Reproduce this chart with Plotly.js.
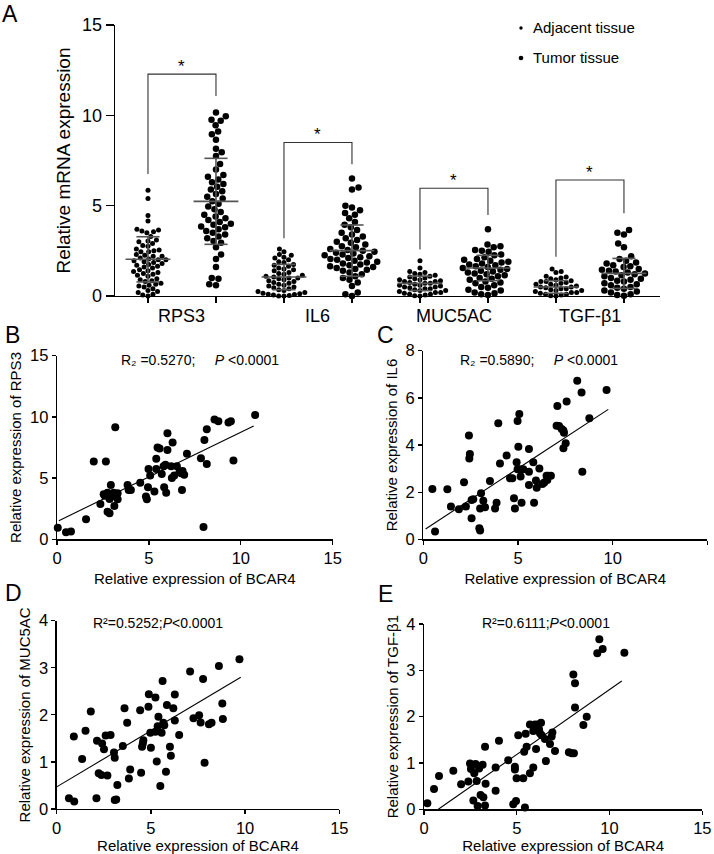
<!DOCTYPE html>
<html><head><meta charset="utf-8">
<script src="https://cdn.plot.ly/plotly-3.0.1.min.js"></script>
<style>html,body{margin:0;padding:0;background:#fff}</style>
</head><body><div id="chart" style="width:714px;height:854px"></div>
<script>
// ---------- Panel A data ----------
const categories = ['RPS3', 'IL6', 'MUC5AC', 'TGF-β1'];
const groupNames = ['Adjacent tissue', 'Tumor tissue'];
const rps3Adjacent = [5.85,5.4,4.45,4.15,3.7,3.65,3.6,3.55,3.5,3.3,3.1,3.05,3.0,2.9,2.8,2.75,2.6,2.55,2.5,2.45,2.45,2.3,2.25,2.2,2.2,2.1,2.05,2.0,2.0,1.95,1.9,1.85,1.8,1.75,1.7,1.65,1.6,1.55,1.45,1.4,1.35,1.3,1.25,1.2,1.15,1.1,0.95,0.9,0.85,0.8,0.7,0.65,0.6,0.55,0.5,0.4,0.3,0.25,0.2,0.1,0.05,0.0];
const rps3Tumor = [10.15,9.95,9.75,9.7,9.45,9.1,8.95,8.65,8.15,7.95,7.75,7.3,7.0,6.7,6.6,6.45,6.3,6.2,6.05,5.9,5.8,5.65,5.5,5.4,5.25,5.1,4.95,4.8,4.65,4.5,4.4,4.3,4.2,4.1,4.0,3.95,3.85,3.8,3.7,3.6,3.5,3.4,3.3,3.2,3.05,2.95,2.7,2.3,2.05,1.6,1.0,0.95,0.65,0.6];
const il6Adjacent = [2.6,2.45,2.3,2.25,2.15,2.1,2.0,1.9,1.85,1.75,1.7,1.65,1.55,1.5,1.45,1.4,1.3,1.25,1.2,1.15,1.1,1.05,1.0,1.0,0.95,0.9,0.85,0.8,0.75,0.7,0.65,0.6,0.55,0.5,0.45,0.4,0.35,0.3,0.25,0.2,0.15,0.12,0.1,0.08,0.05,0.03,0.0,0.0];
const il6Tumor = [6.5,6.0,5.9,5.0,4.9,4.75,4.6,4.5,4.3,4.1,3.95,3.8,3.65,3.5,3.4,3.3,3.2,3.1,3.0,2.95,2.85,2.75,2.7,2.6,2.55,2.5,2.45,2.4,2.35,2.3,2.25,2.2,2.15,2.1,2.05,2.0,1.95,1.9,1.85,1.8,1.75,1.7,1.65,1.6,1.55,1.5,1.45,1.4,1.3,1.2,1.1,1.0,0.9,0.75,0.55,0.2,0.1,0.0];
const muc5acAdjacent = [1.95,1.55,1.35,1.3,1.25,1.2,1.15,1.1,1.05,1.0,0.95,0.9,0.9,0.85,0.8,0.8,0.75,0.7,0.7,0.65,0.6,0.6,0.55,0.5,0.5,0.45,0.4,0.4,0.35,0.3,0.3,0.25,0.2,0.2,0.15,0.1,0.1,0.05,0.02,0.0];
const muc5acTumor = [3.7,2.85,2.75,2.7,2.55,2.5,2.45,2.3,2.25,2.15,2.05,2.0,1.95,1.9,1.85,1.8,1.75,1.7,1.65,1.6,1.55,1.5,1.45,1.4,1.35,1.3,1.25,1.2,1.15,1.1,1.0,0.95,0.9,0.8,0.75,0.7,0.6,0.5,0.45,0.35,0.3,0.2,0.15,0.1,0.05];
const tgfAdjacent = [1.5,1.35,1.3,1.1,1.05,1.0,0.95,0.9,0.85,0.8,0.8,0.75,0.7,0.65,0.65,0.6,0.55,0.5,0.5,0.45,0.4,0.4,0.35,0.3,0.3,0.25,0.2,0.2,0.15,0.1,0.1,0.05,0.02,0.0];
const tgfTumor = [3.65,3.5,3.4,2.9,2.7,2.2,2.05,1.95,1.85,1.8,1.7,1.65,1.6,1.5,1.45,1.4,1.35,1.3,1.25,1.2,1.15,1.1,1.0,0.95,0.9,0.85,0.8,0.7,0.65,0.6,0.5,0.45,0.4,0.3,0.25,0.2,0.1,0.05,0.02];
// mean and SD, order: RPS3 adj, RPS3 tum, IL6 adj, IL6 tum, MUC5AC adj, MUC5AC tum, TGF adj, TGF tum
const groupMeans = [2.03, 5.24, 1.05, 2.51, 0.70, 1.55, 0.50, 1.25];
const groupSDs   = [1.25, 2.38, 0.70, 1.42, 0.40, 0.70, 0.35, 0.83];
// significance brackets (top, left leg end, right leg end)
const bracketTop   = [12.28, 8.5, 5.96, 6.42];
const bracketLeft  = [6.75, 3.19, 2.58, 2.17];
const bracketRight = [11.07, 7.29, 4.48, 4.58];
const sigLabels = ['*', '*', '*', '*'];

// ---------- Scatter panels B-E ----------
const bcar4B = [0.04,0.49,0.76,1.58,2.0,2.66,3.17,2.36,2.54,2.6,2.75,2.75,2.86,2.93,2.86,3.08,3.3,3.12,3.3,3.2,3.84,3.9,4.02,4.53,4.84,4.89,4.98,4.95,5.07,5.3,5.4,5.47,5.58,5.4,5.7,5.8,5.83,5.94,5.9,6.01,6.01,6.21,6.29,6.25,6.38,6.52,6.67,6.76,6.83,6.92,6.8,7.07,7.83,8.02,8.15,8.15,7.97,8.57,8.78,9.33,9.46,9.6,10.78];
const rps3B  = [0.95,0.57,0.63,1.63,6.35,6.35,9.15,2.89,3.68,3.55,3.8,2.26,2.12,4.44,3.3,3.8,3.76,2.72,3.27,3.5,4.44,4.03,4.03,4.63,3.49,3.27,5.74,4.25,5.22,3.9,6.58,7.5,7.41,5.74,5.33,5.96,4.25,3.8,6.1,7.3,8.67,5.96,7.9,5.0,5.22,5.96,5.53,5.4,5.59,5.27,4.03,6.98,6.62,8.12,9.0,6.16,1.0,9.78,9.65,9.54,9.65,6.43,10.16];
const bcar4C = [0.48,0.62,1.27,1.46,1.88,2.15,2.25,2.41,2.46,2.43,2.55,2.55,2.64,3.05,3.0,3.17,3.26,2.96,3.0,3.52,3.79,3.87,3.96,4.05,4.4,4.58,4.7,4.79,4.84,4.93,4.98,5.07,5.02,4.98,5.1,5.28,5.14,5.19,5.58,5.58,5.58,5.81,5.85,5.95,5.99,6.13,6.29,6.39,6.51,6.6,6.74,6.55,7.08,7.04,7.17,7.31,7.4,7.43,7.52,7.4,7.57,8.13,8.36,8.4,8.77,9.68];
const il6C   = [2.13,0.33,2.12,1.39,1.27,2.42,1.39,4.4,3.62,3.43,0.89,1.67,1.7,1.95,1.31,1.63,1.36,0.47,0.37,2.47,1.31,1.55,4.92,3.22,3.55,2.59,2.59,1.74,1.31,3.27,5.02,5.31,3.93,2.97,2.97,2.97,2.66,1.55,3.83,2.87,2.3,3.27,1.55,2.49,2.19,3.0,2.35,2.41,2.7,2.7,2.7,2.52,5.65,4.82,4.81,4.68,4.61,4.52,4.07,3.86,5.84,6.73,6.23,2.87,5.13,6.33];
const bcar4D = [0.65,0.93,0.91,1.35,1.53,1.81,2.11,2.14,2.23,2.37,2.41,2.51,2.6,2.69,2.86,3.04,3.08,3.08,3.16,3.22,3.51,3.6,3.74,3.83,3.9,4.43,4.48,4.53,4.6,4.57,4.87,4.89,4.97,5.0,5.24,5.24,5.31,5.36,5.4,5.5,5.57,5.66,5.62,5.71,5.8,5.85,6.01,6.06,6.19,6.27,6.27,6.5,7.08,7.26,7.56,7.64,7.77,7.85,8.08,8.22,8.61,8.79,8.82,9.7];
const muc5acD= [0.23,0.16,1.54,1.06,1.66,2.07,0.23,1.45,0.76,0.72,1.39,1.27,1.56,0.71,1.57,1.2,1.09,0.19,0.2,0.51,1.34,2.14,1.83,0.65,0.84,2.1,0.77,1.32,1.46,1.39,2.17,2.44,1.62,1.3,1.64,2.37,1.01,1.76,1.96,0.49,1.62,1.83,2.72,1.78,0.79,2.21,1.32,1.13,2.14,1.88,2.43,1.57,2.92,1.93,1.99,1.84,2.76,0.98,1.8,1.83,3.04,2.24,1.91,3.18];
const bcar4E = [0.18,0.54,0.81,1.58,2.0,2.39,2.48,2.53,2.66,2.71,2.78,2.84,2.89,2.97,3.05,3.16,3.2,3.32,3.29,3.29,3.86,3.86,4.04,4.54,4.81,4.9,4.9,4.96,4.99,5.08,5.35,5.44,5.4,5.48,5.53,5.71,5.71,5.89,5.89,5.98,6.13,6.04,6.2,6.25,6.34,6.31,6.52,6.57,6.79,6.88,6.92,7.06,7.81,7.96,8.08,8.05,8.14,8.14,8.59,8.77,9.34,9.45,9.63,10.8];
const tgfE   = [0.13,0.44,0.72,0.83,0.54,0.6,0.99,0.87,0.19,0.78,0.98,0.61,0.07,0.88,0.31,0.96,0.26,0.55,1.35,0.08,0.9,0.4,1.48,1.06,0.11,0.92,0.86,0.18,0.67,1.6,0.67,0.04,1.24,1.63,1.35,0.78,1.83,0.9,1.69,1.83,1.83,1.3,1.73,1.64,1.6,1.87,1.52,1.04,1.41,1.57,1.66,1.26,1.23,1.21,1.21,2.91,2.72,2.2,1.82,2.0,3.37,3.67,3.46,3.38];
// regression lines: start x, end x, slope, intercept
const fitStartX    = [0.10, 0.12, 0.00, 0.77];
const fitEndX      = [10.70, 9.77, 9.77, 10.66];
const fitSlope     = [0.730, 0.5254, 0.2385, 0.280];
const fitIntercept = [1.45, 0.377, 0.47, -0.216];
const statLabels = [
  'R\u2082 =0.5270;\u00a0\u00a0\u00a0\u00a0\u00a0<i>P</i> <0.0001',
  'R\u2082 =0.5890;\u00a0\u00a0\u00a0\u00a0\u00a0<i>P</i> <0.0001',
  'R\u00b2=0.5252;<i>P</i><0.0001',
  'R\u00b2=0.6111;<i>P</i><0.0001'
];
const scatterYTitles = ['Relative expression of RPS3', 'Relative expression of IL6', 'Relative expression of MUC5AC', 'Relative expression of TGF-β1'];
const scatterXTitle = 'Relative expression of BCAR4';
const panelLetters = ['A', 'B', 'C', 'D', 'E'];

// ---------- geometry ----------
const W = 714, H = 854;
const px = v => v / W;
const py = v => 1 - v / H;
const FONT = 'Arial, "Liberation Sans", Helvetica, sans-serif';

// panel A axes
const aX = [115, 660], aY = [25, 296];
const aRangeX = [-0.485, 7.53], aRangeY = [0, 15];
const pxPerX = (aX[1] - aX[0]) / (aRangeX[1] - aRangeX[0]);
const pxPerY = (aY[1] - aY[0]) / (aRangeY[1] - aRangeY[0]);

function swarm(values, d) {
  const placed = [];
  const order = values.map((v, i) => i).sort((a, b) => values[a] - values[b]);
  const out = new Array(values.length);
  let flip = 1;
  for (const i of order) {
    const y = values[i] * pxPerY;
    const near = placed.filter(p => Math.abs(p.y - y) < d);
    const cands = [0];
    for (const p of near) {
      const dx = Math.sqrt(d * d - (p.y - y) * (p.y - y));
      cands.push(p.x + dx, p.x - dx);
    }
    cands.sort((a, b) => (Math.abs(a) - Math.abs(b)) || (flip * (b - a)));
    let chosen = 0;
    for (const c of cands) {
      if (near.every(p => (p.x - c) * (p.x - c) + (p.y - y) * (p.y - y) >= d * d - 1e-6)) { chosen = c; break; }
    }
    flip = -flip;
    placed.push({ x: chosen, y });
    out[i] = chosen / pxPerX;
  }
  return out;
}

const groups = [rps3Adjacent, rps3Tumor, il6Adjacent, il6Tumor, muc5acAdjacent, muc5acTumor, tgfAdjacent, tgfTumor];
const adjSize = 5, tumSize = 6.5;
const traces = [];
const adjX = [], adjY = [], tumX = [], tumY = [];
groups.forEach((vals, g) => {
  const isTum = g % 2 === 1;
  const offs = swarm(vals, (isTum ? tumSize : adjSize) + 0.3);
  vals.forEach((v, i) => {
    if (isTum) { tumX.push(g + offs[i]); tumY.push(v); }
    else { adjX.push(g + offs[i]); adjY.push(v); }
  });
});
traces.push({ type: 'scatter', mode: 'markers', name: groupNames[0], x: adjX, y: adjY, xaxis: 'x', yaxis: 'y',
  marker: { color: '#000', size: adjSize }, cliponaxis: false, showlegend: false, hoverinfo: 'y' });
traces.push({ type: 'scatter', mode: 'markers', name: groupNames[1], x: tumX, y: tumY, xaxis: 'x', yaxis: 'y',
  marker: { color: '#000', size: tumSize }, cliponaxis: false, showlegend: false, hoverinfo: 'y' });

// mean +/- SD lines
const mX = [], mY = [];
groupMeans.forEach((m, g) => {
  const s = groupSDs[g];
  mX.push(g - 0.33, g + 0.33, null); mY.push(m, m, null);
  mX.push(g - 0.17, g + 0.17, null); mY.push(m + s, m + s, null);
  mX.push(g - 0.17, g + 0.17, null); mY.push(Math.max(0, m - s), Math.max(0, m - s), null);
  mX.push(g, g, null); mY.push(Math.max(0, m - s), m + s, null);
});
traces.push({ type: 'scatter', mode: 'lines', x: mX, y: mY, xaxis: 'x', yaxis: 'y',
  line: { color: '#555', width: 1.6 }, cliponaxis: false, showlegend: false, hoverinfo: 'skip' });

// brackets
const bX = [], bY = [];
bracketTop.forEach((t, k) => {
  const x0 = 2 * k, x1 = 2 * k + 1;
  bX.push(x0, x0, x1, x1, null); bY.push(bracketLeft[k], t, t, bracketRight[k], null);
});
traces.push({ type: 'scatter', mode: 'lines', x: bX, y: bY, xaxis: 'x', yaxis: 'y',
  line: { color: '#333', width: 1.1 }, cliponaxis: false, showlegend: false, hoverinfo: 'skip' });

// scatter panels
const scatterX = [bcar4B, bcar4C, bcar4D, bcar4E];
const scatterY = [rps3B, il6C, muc5acD, tgfE];
scatterX.forEach((xs, k) => {
  const ax = k + 2;
  traces.push({ type: 'scatter', mode: 'markers', x: xs, y: scatterY[k], xaxis: 'x' + ax, yaxis: 'y' + ax,
    marker: { color: '#000', size: 8 }, cliponaxis: false, showlegend: false });
  const fx = [fitStartX[k], fitEndX[k]];
  traces.push({ type: 'scatter', mode: 'lines', x: fx, y: fx.map(v => fitSlope[k] * v + fitIntercept[k]),
    xaxis: 'x' + ax, yaxis: 'y' + ax, line: { color: '#000', width: 1.1 }, showlegend: false, hoverinfo: 'skip' });
});

// ---------- layout ----------
function axisBase(extra) {
  return Object.assign({
    showline: true, linecolor: '#000', linewidth: 1.3, ticks: 'outside', ticklen: 5, tickwidth: 1.3, tickcolor: '#000',
    showgrid: false, zeroline: false, tickfont: { family: FONT, size: 16.5, color: '#000' }, fixedrange: true
  }, extra);
}
const layout = {
  width: W, height: H, margin: { l: 0, r: 0, t: 0, b: 0 }, paper_bgcolor: '#fff', plot_bgcolor: 'rgba(0,0,0,0)',
  font: { family: FONT, color: '#000' }, showlegend: false,
  xaxis: axisBase({ domain: [px(aX[0]), px(aX[1])], range: aRangeX, tickvals: [0,1,2,3,4,5,6,7], showticklabels: false, ticklen: 6, anchor: 'y' }),
  yaxis: axisBase({ domain: [py(aY[1]), py(aY[0])], range: aRangeY, tickvals: [0,5,10,15], ticklen: 8, tickfont: { family: FONT, size: 18, color: '#000' },
    title: { text: 'Relative mRNA expression', font: { family: FONT, size: 19, color: '#000' }, standoff: 6 }, anchor: 'x' }),
  annotations: [], shapes: []
};
const sx = [[57, 332.7], [423.3, 707.3], [56.7, 339.3], [424, 702.3]];
const sy = [[355.7, 539.3], [350.7, 539.3], [620.7, 809], [624, 809.3]];
const sRangeY = [[0, 15], [0, 8], [0, 4], [0, 4]];
const sDtickY = [5, 2, 1, 1];
for (let k = 0; k < 4; k++) {
  const ax = k + 2;
  layout['xaxis' + ax] = axisBase({ domain: [px(sx[k][0]), px(sx[k][1])], range: [0, 15], dtick: 5, anchor: 'y' + ax, ticklen: 4,
    title: { text: scatterXTitle, font: { family: FONT, size: 15, color: '#000' }, standoff: 7 } });
  layout['yaxis' + ax] = axisBase({ domain: [py(sy[k][1]), py(sy[k][0])], range: sRangeY[k], dtick: sDtickY[k], anchor: 'x' + ax, ticklen: 4,
    title: { text: scatterYTitles[k], font: { family: FONT, size: 15, color: '#000' }, standoff: 4 } });
}
// category labels
const catCenterY = 316;
categories.forEach((c, k) => {
  layout.annotations.push({ xref: 'x', yref: 'paper', x: 2 * k + 0.5, y: py(catCenterY), text: c, showarrow: false,
    xanchor: 'center', yanchor: 'middle', font: { family: FONT, size: 18, color: '#000' } });
});
// significance stars
bracketTop.forEach((t, k) => {
  layout.annotations.push({ xref: 'x', yref: 'y', x: 2 * k + 0.5, y: t, text: sigLabels[k], showarrow: false,
    xanchor: 'center', yanchor: 'bottom', yshift: -4, font: { family: FONT, size: 17, color: '#000' } });
});
// legend (custom)
const legY = [27.5, 57.5], legDot = [3.4, 4.6];
groupNames.forEach((n, k) => {
  layout.annotations.push({ xref: 'paper', yref: 'paper', x: px(531), y: py(legY[k]), text: n, showarrow: false,
    xanchor: 'left', yanchor: 'middle', font: { family: FONT, size: 15, color: '#000' } });
  layout.shapes.push({ type: 'circle', xref: 'paper', yref: 'paper', xsizemode: 'pixel', ysizemode: 'pixel',
    xanchor: px(521), yanchor: py(legY[k] + 0.5), x0: -legDot[k] / 2, x1: legDot[k] / 2, y0: -legDot[k] / 2, y1: legDot[k] / 2,
    fillcolor: '#000', line: { width: 0 } });
});
// statistics labels
const statPos = [[200, 359.5], [539, 359.5], [157.5, 622.5], [545.5, 623]];
statLabels.forEach((t, k) => {
  layout.annotations.push({ xref: 'paper', yref: 'paper', x: px(statPos[k][0]), y: py(statPos[k][1]), text: t, showarrow: false,
    xanchor: 'center', yanchor: 'middle', font: { family: FONT, size: 14, color: '#000' } });
});
// panel letters (left edge x, centre y)
const letterPos = [[1, 14], [4, 335], [376, 335], [4, 593], [377, 594]];
panelLetters.forEach((l, k) => {
  layout.annotations.push({ xref: 'paper', yref: 'paper', x: px(letterPos[k][0]), y: py(letterPos[k][1]), text: l, showarrow: false,
    xanchor: 'left', yanchor: 'middle', borderpad: 0, font: { family: FONT, size: 23, color: '#000' } });
});

Plotly.newPlot('chart', traces, layout, { staticPlot: true, displayModeBar: false });
</script></body></html>
